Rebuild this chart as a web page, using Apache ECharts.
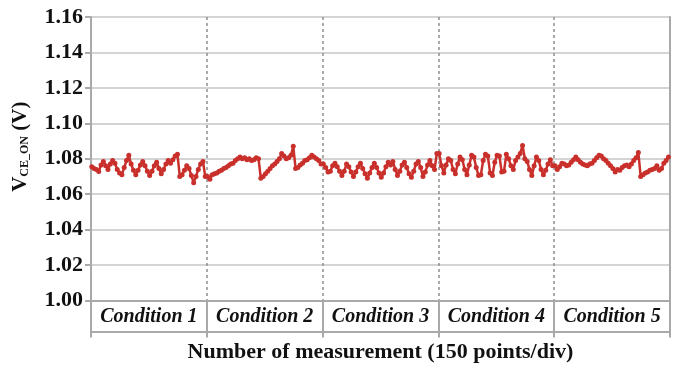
<!DOCTYPE html>
<html><head><meta charset="utf-8">
<script src="https://cdn.jsdelivr.net/npm/echarts@6/dist/echarts.min.js"></script>
<style>html,body{margin:0;padding:0;background:#fff}#c{width:679px;height:365px}</style>
</head><body><div id="c"></div>
<script>
const conditions = ['Condition 1','Condition 2','Condition 3','Condition 4','Condition 5'];
const yTicks = [1.00,1.02,1.04,1.06,1.08,1.10,1.12,1.14,1.16];
const pointsPerDiv = 150;
const sampleStep = 3;
const cond1 = [1.0755,1.0745,1.0740,1.0728,1.0765,1.0785,1.0760,1.0740,1.0770,1.0790,
  1.0775,1.0740,1.0720,1.0710,1.0750,1.0790,1.0820,1.0770,1.0735,1.0710,
  1.0735,1.0765,1.0785,1.0760,1.0730,1.0705,1.0730,1.0760,1.0780,1.0745,
  1.0715,1.0740,1.0770,1.0790,1.0775,1.0795,1.0815,1.0825,1.0700,1.0710,
  1.0735,1.0760,1.0745,1.0705,1.0665,1.0700,1.0740,1.0770,1.0785,1.0700];
const cond2 = [1.0700,1.0685,1.0710,1.0715,1.0720,1.0730,1.0735,1.0745,1.0750,1.0760,
  1.0770,1.0775,1.0790,1.0800,1.0810,1.0800,1.0805,1.0795,1.0800,1.0790,
  1.0795,1.0805,1.0800,1.0690,1.0700,1.0715,1.0730,1.0745,1.0760,1.0770,
  1.0785,1.0800,1.0830,1.0815,1.0800,1.0805,1.0820,1.0870,1.0745,1.0750,
  1.0765,1.0775,1.0790,1.0795,1.0805,1.0820,1.0810,1.0800,1.0790,1.0770];
const cond3 = [1.0770,1.0750,1.0725,1.0730,1.0760,1.0775,1.0755,1.0730,1.0705,1.0730,
  1.0770,1.0755,1.0725,1.0700,1.0725,1.0755,1.0775,1.0745,1.0715,1.0690,
  1.0720,1.0750,1.0775,1.0750,1.0720,1.0695,1.0720,1.0755,1.0780,1.0765,
  1.0785,1.0740,1.0705,1.0730,1.0765,1.0780,1.0750,1.0715,1.0695,1.0730,
  1.0770,1.0785,1.0750,1.0700,1.0725,1.0765,1.0790,1.0760,1.0740,1.0830];
const cond4 = [1.0830,1.0760,1.0720,1.0765,1.0800,1.0790,1.0740,1.0715,1.0770,1.0810,
  1.0795,1.0740,1.0710,1.0765,1.0820,1.0810,1.0750,1.0705,1.0710,1.0790,
  1.0825,1.0815,1.0720,1.0705,1.0780,1.0820,1.0815,1.0725,1.0730,1.0825,
  1.0800,1.0760,1.0740,1.0790,1.0810,1.0830,1.0875,1.0800,1.0785,1.0740,
  1.0705,1.0760,1.0810,1.0790,1.0740,1.0710,1.0735,1.0770,1.0795,1.0760];
const cond5 = [1.0760,1.0740,1.0755,1.0775,1.0770,1.0760,1.0765,1.0780,1.0795,1.0810,
  1.0795,1.0780,1.0770,1.0765,1.0760,1.0770,1.0775,1.0790,1.0805,1.0820,
  1.0815,1.0800,1.0790,1.0775,1.0760,1.0745,1.0725,1.0740,1.0735,1.0750,
  1.0760,1.0765,1.0755,1.0770,1.0790,1.0805,1.0835,1.0700,1.0710,1.0720,
  1.0725,1.0735,1.0740,1.0745,1.0760,1.0735,1.0745,1.0775,1.0790,1.0810];

const allConds = [cond1,cond2,cond3,cond4,cond5];
const seriesData = [];
allConds.forEach((arr,k)=>{arr.forEach((v,i)=>{seriesData.push([k*pointsPerDiv + i*sampleStep + 1, v]);});});

const serif = 'Liberation Serif';
const axisGray = '#a9a9a9';
const chart = echarts.init(document.getElementById('c'));
chart.setOption({
  animation:false,
  grid:{left:91,right:9,top:17,bottom:64.5,containLabel:false,outerBoundsMode:'none'},
  xAxis:[{
    type:'value',min:0,max:conditions.length*pointsPerDiv,interval:pointsPerDiv,
    axisLine:{show:true,lineStyle:{color:axisGray,width:2}},
    axisTick:{show:true,length:37,lineStyle:{color:axisGray,width:2}},
    axisLabel:{show:false},
    splitLine:{show:true,lineStyle:{color:'#8f8f8f',type:[3,3],width:1.5}}
  },{
    type:'category',data:conditions,position:'bottom',offset:31,boundaryGap:true,
    axisLine:{show:true,lineStyle:{color:axisGray,width:2}},
    axisTick:{show:false},
    axisLabel:{inside:true,interval:0,hideOverlap:false,margin:15,verticalAlign:'middle',fontFamily:serif,fontWeight:'bold',fontStyle:'italic',fontSize:20,color:'#111'},
    splitLine:{show:false},
    name:'Number of measurement (150 points/div)',nameLocation:'middle',nameGap:21,
    nameTextStyle:{fontFamily:serif,fontWeight:'bold',fontSize:22,color:'#111',verticalAlign:'middle'}
  }],
  yAxis:[{
    type:'value',min:yTicks[0],max:yTicks[yTicks.length-1],interval:0.02,
    axisLine:{show:true,lineStyle:{color:axisGray,width:2}},
    axisTick:{show:true,length:6,lineStyle:{color:axisGray,width:2}},
    axisLabel:{formatter:v=>v.toFixed(2),fontFamily:serif,fontWeight:'bold',fontSize:22,color:'#111',margin:8},
    splitLine:{show:true,lineStyle:{color:'#d4d4d4',width:2}},
    name:'{v|V}{s|CE_ON}{v| (V)}',nameLocation:'middle',nameGap:60,
    nameTextStyle:{padding:[0,0,0,24],rich:{v:{fontFamily:serif,fontWeight:'bold',fontSize:21,color:'#111'},s:{fontFamily:serif,fontWeight:'bold',fontSize:12,color:'#111',verticalAlign:'bottom',padding:[9,0,0,0]}}}
  },{
    type:'value',position:'right',min:yTicks[0],max:yTicks[yTicks.length-1],interval:0.02,
    axisLine:{show:true,lineStyle:{color:axisGray,width:2}},
    axisTick:{show:false},axisLabel:{show:false},splitLine:{show:false}
  }],
  series:[{
    type:'line',data:seriesData,xAxisIndex:0,yAxisIndex:0,
    symbol:'circle',symbolSize:5,showSymbol:true,
    lineStyle:{color:'#c9302c',width:2.5},
    itemStyle:{color:'#c9302c'}
  }]
});
</script></body></html>
